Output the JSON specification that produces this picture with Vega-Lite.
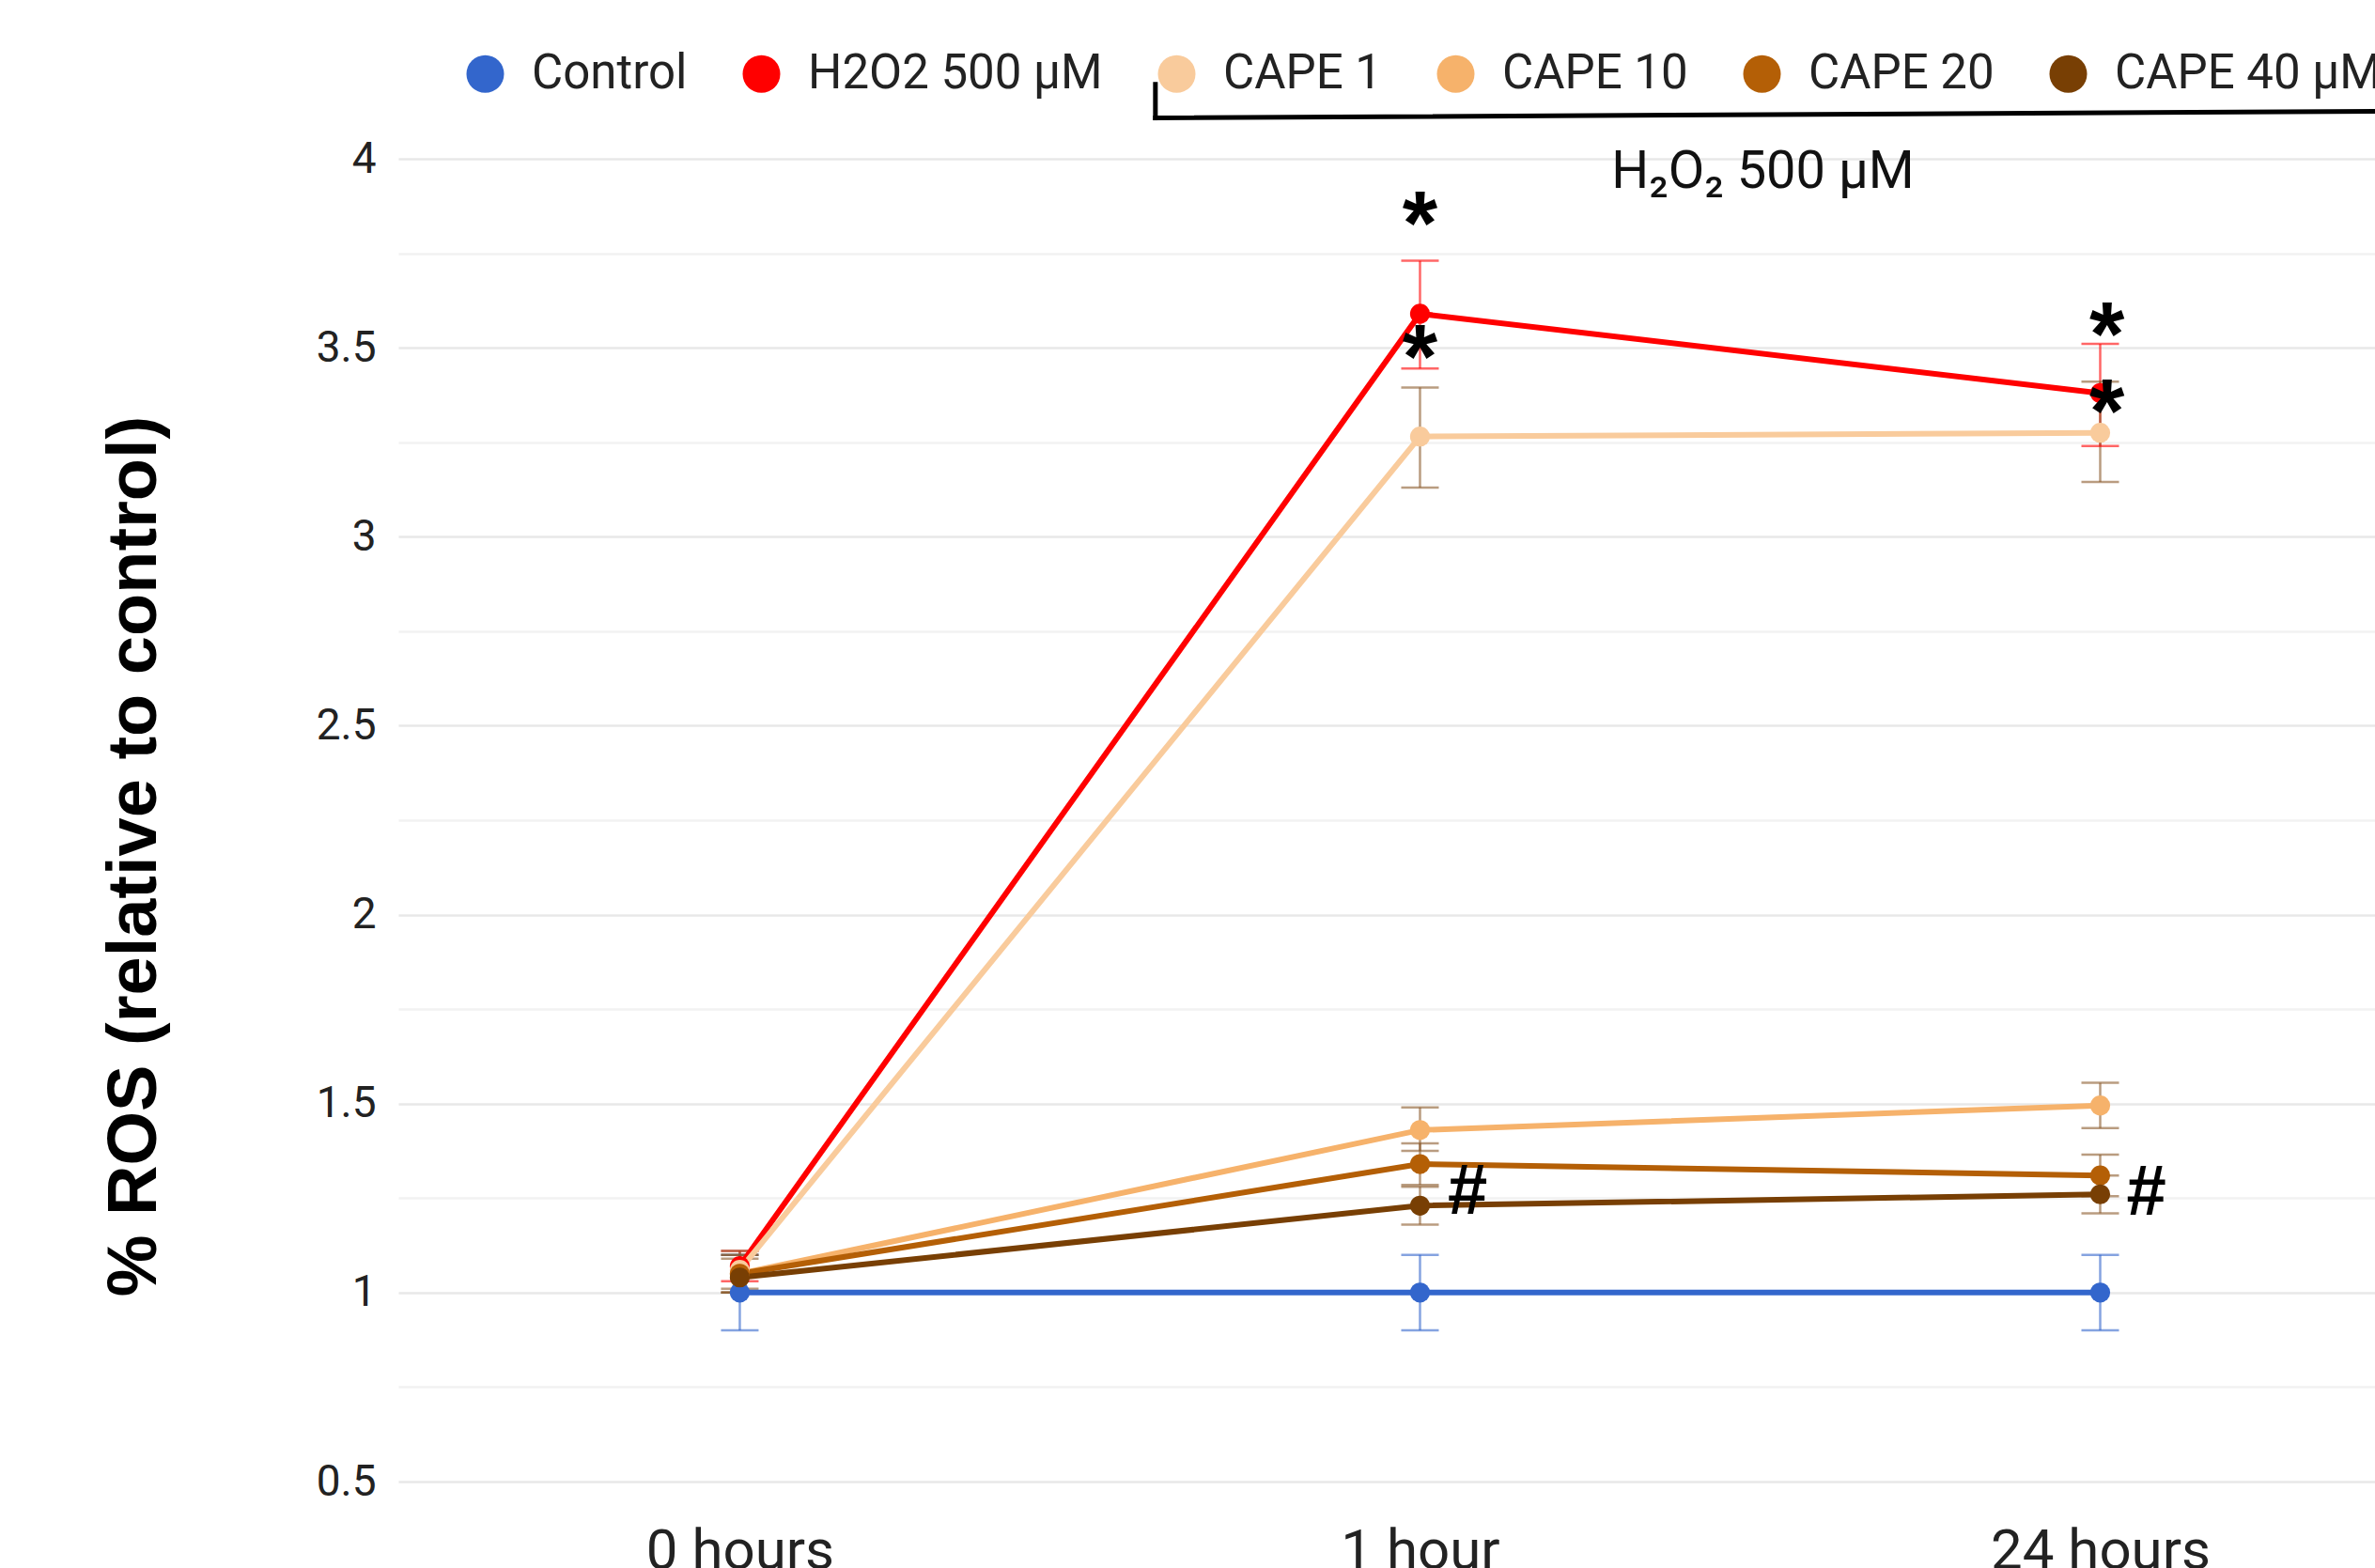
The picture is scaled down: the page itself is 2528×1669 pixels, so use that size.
{
  "$schema": "https://vega.github.io/schema/vega-lite/v6.json",
  "autosize": {"type": "none"},
  "padding": {"left": 424, "top": 169, "right": 0, "bottom": 92},
  "width": 2104,
  "height": 1408,
  "background": "white",
  "config": {"view": {"stroke": null}, "font": "Roboto"},
  "datasets": {
    "ros": [
      {"time": "0 hours", "step": 0, "group": "Control", "mean": 1.0, "low": 0.9, "high": 1.1},
      {"time": "1 hour", "step": 1, "group": "Control", "mean": 1.0, "low": 0.9, "high": 1.1},
      {"time": "24 hours", "step": 2, "group": "Control", "mean": 1.0, "low": 0.9, "high": 1.1},
      {"time": "0 hours", "step": 0, "group": "H2O2 500 µM", "mean": 1.07, "low": 1.03, "high": 1.11},
      {"time": "1 hour", "step": 1, "group": "H2O2 500 µM", "mean": 3.59, "low": 3.445, "high": 3.73},
      {"time": "24 hours", "step": 2, "group": "H2O2 500 µM", "mean": 3.38, "low": 3.24, "high": 3.51},
      {"time": "0 hours", "step": 0, "group": "CAPE 1", "mean": 1.06, "low": 1.01, "high": 1.11},
      {"time": "1 hour", "step": 1, "group": "CAPE 1", "mean": 3.265, "low": 3.13, "high": 3.395},
      {"time": "24 hours", "step": 2, "group": "CAPE 1", "mean": 3.275, "low": 3.145, "high": 3.41},
      {"time": "0 hours", "step": 0, "group": "CAPE 10", "mean": 1.05, "low": 1.0, "high": 1.1},
      {"time": "1 hour", "step": 1, "group": "CAPE 10", "mean": 1.43, "low": 1.375, "high": 1.49},
      {"time": "24 hours", "step": 2, "group": "CAPE 10", "mean": 1.495, "low": 1.435, "high": 1.555},
      {"time": "0 hours", "step": 0, "group": "CAPE 20", "mean": 1.05, "low": 1.0, "high": 1.1},
      {"time": "1 hour", "step": 1, "group": "CAPE 20", "mean": 1.34, "low": 1.285, "high": 1.395},
      {"time": "24 hours", "step": 2, "group": "CAPE 20", "mean": 1.31, "low": 1.255, "high": 1.365},
      {"time": "0 hours", "step": 0, "group": "CAPE 40 µM", "mean": 1.04, "low": 1.0, "high": 1.09},
      {"time": "1 hour", "step": 1, "group": "CAPE 40 µM", "mean": 1.23, "low": 1.18, "high": 1.28},
      {"time": "24 hours", "step": 2, "group": "CAPE 40 µM", "mean": 1.26, "low": 1.21, "high": 1.31}
    ],
    "stars": [
      {"step": 1.0, "level": 3.854, "label": "*"},
      {"step": 1.0, "level": 3.501, "label": "*"},
      {"step": 2.01, "level": 3.559, "label": "*"},
      {"step": 2.01, "level": 3.356, "label": "*"}
    ],
    "hashes": [
      {"step": 1.07, "level": 1.273, "label": "#"},
      {"step": 2.068, "level": 1.271, "label": "#"}
    ],
    "bracket": [
      {"step": 0.611, "step2": 2.45, "y": 4.108, "y2": 4.126},
      {"step": 0.611, "step2": 0.611, "y": 4.197, "y2": 4.108}
    ],
    "caption": [
      {"step": 1.504, "level": 3.924, "label": "H₂O₂ 500 µM"}
    ]
  },
  "layer": [
    {
      "data": {"name": "ros"},
      "mark": {"type": "rule", "strokeWidth": 2.5, "opacity": 0.6},
      "encoding": {
        "x": {
          "field": "step", "type": "quantitative", "title": null,
          "scale": {"domain": [-0.502, 2.404], "nice": false, "zero": false},
          "axis": {
            "values": [0, 1, 2],
            "labelExpr": "['0 hours', '1 hour', '24 hours'][datum.value]",
            "grid": false, "domain": false, "ticks": false, "tickSize": 0,
            "labelFont": "Roboto", "labelFontSize": 60, "labelColor": "#222222",
            "labelBaseline": "alphabetic", "labelPadding": 92, "labelLimit": 1000,
            "labelFlush": false, "labelOverlap": false
          }
        },
        "y": {
          "field": "low", "type": "quantitative",
          "scale": {"domain": [0.5, 4], "nice": false, "zero": false},
          "title": "% ROS (relative to control)",
          "axis": {
            "values": [0.5, 0.75, 1, 1.25, 1.5, 1.75, 2, 2.25, 2.5, 2.75, 3, 3.25, 3.5, 3.75, 4],
            "labelExpr": "datum.value % 0.5 === 0 ? format(datum.value, '~g') : ''",
            "grid": true,
            "gridColor": {"condition": {"test": "datum.value % 0.5 === 0", "value": "#e8e8e8"}, "value": "#f2f2f2"},
            "gridWidth": 2.5,
            "domain": false, "ticks": false, "tickSize": 0,
            "labelFont": "Roboto", "labelFontSize": 46, "labelColor": "#222222", "labelPadding": 24,
            "titleFont": "Liberation Sans", "titleFontSize": 74, "titleFontWeight": "bold", "titleColor": "#000000",
            "titleAngle": 270, "titleAlign": "center", "titleBaseline": "alphabetic",
            "titleX": -259, "titleY": 742
          }
        },
        "y2": {"field": "high"},
        "stroke": {
          "field": "group", "type": "nominal", "legend": null,
          "scale": {
            "domain": ["CAPE 1", "CAPE 10", "CAPE 20", "CAPE 40 µM", "Control", "H2O2 500 µM"],
            "range": ["#8b5a2b", "#8b5a2b", "#8b5a2b", "#8b5a2b", "#3366cc", "#ff0000"]
          }
        }
      }
    },
    {
      "data": {"name": "ros"},
      "mark": {"type": "tick", "orient": "horizontal", "size": 40, "thickness": 2.5, "opacity": 0.6},
      "encoding": {
        "x": {"field": "step", "type": "quantitative", "title": null, "scale": {"domain": [-0.502, 2.404], "nice": false, "zero": false}},
        "y": {"field": "low", "type": "quantitative", "title": "% ROS (relative to control)", "scale": {"domain": [0.5, 4], "nice": false, "zero": false}},
        "fill": {
          "field": "group", "type": "nominal", "legend": null,
          "scale": {
            "domain": ["CAPE 1", "CAPE 10", "CAPE 20", "CAPE 40 µM", "Control", "H2O2 500 µM"],
            "range": ["#8b5a2b", "#8b5a2b", "#8b5a2b", "#8b5a2b", "#3366cc", "#ff0000"]
          }
        }
      }
    },
    {
      "data": {"name": "ros"},
      "mark": {"type": "tick", "orient": "horizontal", "size": 40, "thickness": 2.5, "opacity": 0.6},
      "encoding": {
        "x": {"field": "step", "type": "quantitative", "title": null, "scale": {"domain": [-0.502, 2.404], "nice": false, "zero": false}},
        "y": {"field": "high", "type": "quantitative", "title": "% ROS (relative to control)", "scale": {"domain": [0.5, 4], "nice": false, "zero": false}},
        "fill": {"field": "group", "type": "nominal", "legend": null}
      }
    },
    {
      "data": {"name": "ros"},
      "mark": {"type": "line", "strokeWidth": 6},
      "encoding": {
        "x": {"field": "step", "type": "quantitative", "title": null, "scale": {"domain": [-0.502, 2.404], "nice": false, "zero": false}},
        "y": {"field": "mean", "type": "quantitative", "title": "% ROS (relative to control)", "scale": {"domain": [0.5, 4], "nice": false, "zero": false}},
        "color": {
          "field": "group", "type": "nominal",
          "scale": {
            "domain": ["Control", "H2O2 500 µM", "CAPE 1", "CAPE 10", "CAPE 20", "CAPE 40 µM"],
            "range": ["#3366cc", "#ff0000", "#f9cb9c", "#f6b26b", "#b45f06", "#783f04"]
          },
          "legend": {
            "orient": "none", "legendX": 67, "legendY": -116, "direction": "horizontal",
            "title": null, "padding": 0,
            "symbolType": "circle", "symbolSize": 1600, "symbolStrokeWidth": 0, "symbolOpacity": 1,
            "labelFont": "Roboto", "labelFontSize": 51, "labelColor": "#222222",
            "labelOffset": 24, "labelLimit": 1000, "columnPadding": 53,
            "encode": {"symbols": {"update": {"fill": {"scale": "color", "field": "value"}, "strokeWidth": {"value": 0}, "opacity": {"value": 1}}}}
          }
        }
      }
    },
    {
      "data": {"name": "ros"},
      "mark": {"type": "point", "filled": true, "size": 450, "opacity": 1},
      "encoding": {
        "x": {"field": "step", "type": "quantitative", "title": null, "scale": {"domain": [-0.502, 2.404], "nice": false, "zero": false}},
        "y": {"field": "mean", "type": "quantitative", "title": "% ROS (relative to control)", "scale": {"domain": [0.5, 4], "nice": false, "zero": false}},
        "color": {
          "field": "group", "type": "nominal",
          "legend": {
            "orient": "none", "legendX": 67, "legendY": -116, "direction": "horizontal",
            "title": null, "padding": 0,
            "symbolType": "circle", "symbolSize": 1600, "symbolStrokeWidth": 0, "symbolOpacity": 1,
            "labelFont": "Roboto", "labelFontSize": 51, "labelColor": "#222222",
            "labelOffset": 24, "labelLimit": 1000, "columnPadding": 53,
            "encode": {"symbols": {"update": {"fill": {"scale": "color", "field": "value"}, "strokeWidth": {"value": 0}, "opacity": {"value": 1}}}}
          }
        }
      }
    },
    {
      "data": {"name": "bracket"},
      "mark": {"type": "rule", "color": "#000000", "strokeWidth": 5, "strokeCap": "square"},
      "encoding": {
        "x": {"field": "step", "type": "quantitative", "title": null, "scale": {"domain": [-0.502, 2.404], "nice": false, "zero": false}},
        "x2": {"field": "step2"},
        "y": {"field": "y", "type": "quantitative", "title": "% ROS (relative to control)", "scale": {"domain": [0.5, 4], "nice": false, "zero": false}},
        "y2": {"field": "y2"}
      }
    },
    {
      "data": {"name": "caption"},
      "mark": {"type": "text", "font": "Roboto", "fontSize": 56, "color": "#111111", "align": "center", "baseline": "alphabetic"},
      "encoding": {
        "x": {"field": "step", "type": "quantitative", "title": null, "scale": {"domain": [-0.502, 2.404], "nice": false, "zero": false}},
        "y": {"field": "level", "type": "quantitative", "title": "% ROS (relative to control)", "scale": {"domain": [0.5, 4], "nice": false, "zero": false}},
        "text": {"field": "label"}
      }
    },
    {
      "data": {"name": "stars"},
      "mark": {"type": "text", "font": "Liberation Sans", "fontWeight": "bold", "fontSize": 96, "color": "#000000", "align": "center", "baseline": "alphabetic", "dy": 42},
      "encoding": {
        "x": {"field": "step", "type": "quantitative", "title": null, "scale": {"domain": [-0.502, 2.404], "nice": false, "zero": false}},
        "y": {"field": "level", "type": "quantitative", "title": "% ROS (relative to control)", "scale": {"domain": [0.5, 4], "nice": false, "zero": false}},
        "text": {"field": "label"}
      }
    },
    {
      "data": {"name": "hashes"},
      "mark": {"type": "text", "font": "Liberation Sans", "fontWeight": "bold", "fontSize": 76, "color": "#000000", "align": "center", "baseline": "alphabetic", "dy": 26},
      "encoding": {
        "x": {"field": "step", "type": "quantitative", "title": null, "scale": {"domain": [-0.502, 2.404], "nice": false, "zero": false}},
        "y": {"field": "level", "type": "quantitative", "title": "% ROS (relative to control)", "scale": {"domain": [0.5, 4], "nice": false, "zero": false}},
        "text": {"field": "label"}
      }
    }
  ]
}
